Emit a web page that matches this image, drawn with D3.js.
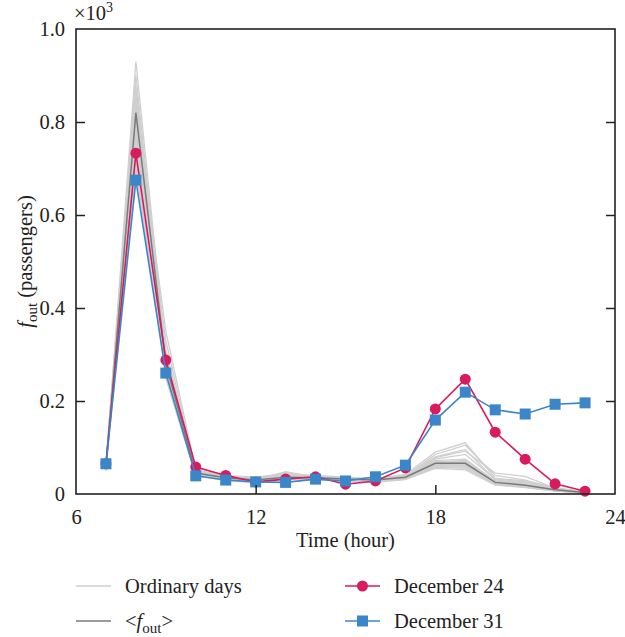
<!doctype html>
<html lang="en">
<head>
<meta charset="utf-8">
<title>f_out per hour</title>
<script src="https://d3js.org/d3.v7.min.js"></script>
<style>
  body { margin: 0; background: #fff; }
  svg text { font-family: "Liberation Serif", "DejaVu Serif", serif; fill: #222; }
</style>
</head>
<body>
<div id="chart"></div>
<script>
  // hours of the day (x values)
  const hours = [7, 8, 9, 10, 11, 12, 13, 14, 15, 16, 17, 18, 19, 20, 21, 22, 23];

  // values in thousands of passengers
  const dec24 = [0.065, 0.733, 0.288, 0.058, 0.040, 0.026, 0.032, 0.037, 0.021, 0.028, 0.056, 0.183, 0.247, 0.133, 0.075, 0.022, 0.006];
  const dec31 = [0.065, 0.675, 0.260, 0.039, 0.030, 0.026, 0.025, 0.032, 0.028, 0.037, 0.062, 0.159, 0.219, 0.181, 0.172, 0.193, 0.196];
  const meanDay = [0.060, 0.820, 0.280, 0.045, 0.035, 0.030, 0.036, 0.035, 0.032, 0.030, 0.036, 0.066, 0.066, 0.025, 0.019, 0.009, 0.003];

  const ordinaryDays = [
    [0.058, 0.930, 0.300, 0.048, 0.036, 0.032, 0.040, 0.036, 0.033, 0.030, 0.038, 0.072, 0.075, 0.028, 0.022, 0.010, 0.003],
    [0.062, 0.880, 0.290, 0.046, 0.034, 0.030, 0.038, 0.034, 0.031, 0.028, 0.035, 0.068, 0.070, 0.026, 0.020, 0.008, 0.002],
    [0.055, 0.860, 0.310, 0.050, 0.038, 0.034, 0.042, 0.038, 0.035, 0.032, 0.040, 0.080, 0.096, 0.030, 0.024, 0.012, 0.004],
    [0.065, 0.850, 0.270, 0.044, 0.032, 0.028, 0.035, 0.033, 0.030, 0.027, 0.034, 0.060, 0.060, 0.022, 0.017, 0.008, 0.003],
    [0.060, 0.840, 0.280, 0.045, 0.035, 0.031, 0.037, 0.035, 0.032, 0.029, 0.036, 0.064, 0.064, 0.024, 0.019, 0.009, 0.003],
    [0.052, 0.830, 0.350, 0.052, 0.040, 0.036, 0.044, 0.040, 0.036, 0.033, 0.042, 0.090, 0.110, 0.034, 0.028, 0.014, 0.004],
    [0.068, 0.820, 0.260, 0.042, 0.030, 0.027, 0.033, 0.031, 0.029, 0.026, 0.032, 0.058, 0.055, 0.020, 0.015, 0.007, 0.002],
    [0.057, 0.810, 0.290, 0.047, 0.036, 0.033, 0.046, 0.037, 0.034, 0.031, 0.037, 0.070, 0.068, 0.027, 0.021, 0.010, 0.003],
    [0.063, 0.800, 0.270, 0.043, 0.033, 0.029, 0.034, 0.033, 0.030, 0.028, 0.035, 0.062, 0.062, 0.023, 0.018, 0.008, 0.002],
    [0.050, 0.790, 0.330, 0.049, 0.037, 0.030, 0.039, 0.036, 0.033, 0.030, 0.039, 0.085, 0.105, 0.040, 0.030, 0.012, 0.004],
    [0.070, 0.780, 0.250, 0.040, 0.029, 0.024, 0.032, 0.030, 0.028, 0.025, 0.031, 0.055, 0.052, 0.019, 0.014, 0.006, 0.002],
    [0.059, 0.770, 0.280, 0.046, 0.034, 0.031, 0.036, 0.034, 0.031, 0.029, 0.036, 0.066, 0.068, 0.025, 0.020, 0.009, 0.003],
    [0.061, 0.760, 0.270, 0.044, 0.034, 0.029, 0.035, 0.033, 0.031, 0.028, 0.034, 0.063, 0.063, 0.024, 0.019, 0.008, 0.003],
    [0.054, 0.740, 0.300, 0.048, 0.036, 0.032, 0.038, 0.035, 0.032, 0.030, 0.037, 0.075, 0.085, 0.032, 0.026, 0.011, 0.003],
    [0.066, 0.720, 0.250, 0.041, 0.031, 0.026, 0.033, 0.031, 0.029, 0.026, 0.033, 0.057, 0.058, 0.021, 0.016, 0.007, 0.002],
    [0.056, 0.700, 0.260, 0.043, 0.032, 0.028, 0.034, 0.032, 0.030, 0.027, 0.034, 0.060, 0.061, 0.023, 0.018, 0.008, 0.002],
    [0.064, 0.870, 0.300, 0.047, 0.035, 0.030, 0.048, 0.036, 0.032, 0.030, 0.036, 0.078, 0.092, 0.045, 0.038, 0.012, 0.003],
    [0.058, 0.820, 0.280, 0.045, 0.034, 0.029, 0.036, 0.034, 0.032, 0.029, 0.036, 0.066, 0.060, 0.024, 0.020, 0.010, 0.004],
    [0.060, 0.900, 0.290, 0.046, 0.035, 0.031, 0.037, 0.035, 0.032, 0.029, 0.035, 0.068, 0.072, 0.026, 0.021, 0.009, 0.003],
    [0.062, 0.790, 0.280, 0.045, 0.034, 0.030, 0.036, 0.034, 0.031, 0.029, 0.036, 0.065, 0.066, 0.025, 0.019, 0.008, 0.003]
  ];

  const xTicks = [6, 12, 18, 24];
  const yTicks = [0, 0.2, 0.4, 0.6, 0.8, 1.0];
  const yTickLabels = ['0', '0.2', '0.4', '0.6', '0.8', '1.0'];

  const width = 625;
  const height = 637;
  const margin = { top: 29, right: 10, bottom: 143, left: 76 };
  const fontSize = 20.5;

  const svg = d3.select('#chart').append('svg')
    .attr('width', width)
    .attr('height', height);

  const x = d3.scaleLinear()
    .domain([6, 24])
    .range([margin.left, width - margin.right]);

  const y = d3.scaleLinear()
    .domain([0, 1])
    .range([height - margin.bottom, margin.top]);

  const red = '#d81b5e';
  const blue = '#3a86c8';
  const grey = '#cfcfcf';
  const meanGrey = '#7a7a7a';

  const line = d3.line()
    .x((d, i) => x(hours[i]))
    .y(d => y(d));

  const plot = svg.append('g');

  // ordinary days
  plot.selectAll('path.ordinary')
    .data(ordinaryDays)
    .enter()
    .append('path')
    .attr('class', 'ordinary')
    .attr('d', line)
    .attr('fill', 'none')
    .attr('stroke', grey)
    .attr('stroke-width', 1.3);

  // mean
  plot.append('path')
    .attr('d', line(meanDay))
    .attr('fill', 'none')
    .attr('stroke', meanGrey)
    .attr('stroke-width', 1.5);

  // December 24
  plot.append('path')
    .attr('d', line(dec24))
    .attr('fill', 'none')
    .attr('stroke', red)
    .attr('stroke-width', 1.6);

  plot.selectAll('circle.dec24')
    .data(dec24)
    .enter()
    .append('circle')
    .attr('class', 'dec24')
    .attr('cx', (d, i) => x(hours[i]))
    .attr('cy', d => y(d))
    .attr('r', 5.5)
    .attr('fill', red);

  // December 31
  plot.append('path')
    .attr('d', line(dec31))
    .attr('fill', 'none')
    .attr('stroke', blue)
    .attr('stroke-width', 1.6);

  const sq = 11;
  plot.selectAll('rect.dec31')
    .data(dec31)
    .enter()
    .append('rect')
    .attr('class', 'dec31')
    .attr('x', (d, i) => x(hours[i]) - sq / 2)
    .attr('y', d => y(d) - sq / 2)
    .attr('width', sq)
    .attr('height', sq)
    .attr('fill', blue);

  // axes (inward ticks)
  const axisColour = '#222';
  const xAxis = d3.axisBottom(x)
    .tickValues(xTicks)
    .tickSize(-9)
    .tickPadding(15)
    .tickFormat(d3.format('d'));

  const gx = svg.append('g')
    .attr('transform', `translate(0, ${y(0)})`)
    .call(xAxis);
  gx.select('.domain').remove();
  gx.selectAll('.tick line')
    .attr('stroke', axisColour)
    .attr('stroke-width', 1.5)
    .attr('opacity', d => (d === 6 || d === 24) ? 0 : 1);
  gx.selectAll('.tick text')
    .attr('font-size', fontSize)
    .attr('fill', axisColour)
    .style('font-family', '"Liberation Serif", serif');

  const yAxis = d3.axisLeft(y)
    .tickValues(yTicks)
    .tickSize(-9)
    .tickPadding(11)
    .tickFormat((d, i) => yTickLabels[i]);

  const gy = svg.append('g')
    .attr('transform', `translate(${x(6)}, 0)`)
    .call(yAxis);
  gy.select('.domain').remove();
  gy.selectAll('.tick line')
    .attr('stroke', axisColour)
    .attr('stroke-width', 1.5)
    .attr('opacity', d => (d === 0 || d === 1) ? 0 : 1);
  gy.selectAll('.tick text')
    .attr('font-size', fontSize)
    .attr('fill', axisColour)
    .style('font-family', '"Liberation Serif", serif');

  const yAxisRight = d3.axisRight(y)
    .tickValues(yTicks)
    .tickSize(-9)
    .tickFormat('');

  const gyr = svg.append('g')
    .attr('transform', `translate(${x(24)}, 0)`)
    .call(yAxisRight);
  gyr.select('.domain').remove();
  gyr.selectAll('.tick line')
    .attr('stroke', axisColour)
    .attr('stroke-width', 1.5)
    .attr('opacity', d => (d === 0 || d === 1) ? 0 : 1);

  // frame
  svg.append('rect')
    .attr('x', x(6))
    .attr('y', y(1))
    .attr('width', x(24) - x(6))
    .attr('height', y(0) - y(1))
    .attr('fill', 'none')
    .attr('stroke', axisColour)
    .attr('stroke-width', 1.6);

  // x10^3
  const mult = svg.append('text')
    .attr('x', x(6) - 2)
    .attr('y', 20)
    .attr('font-size', fontSize);
  mult.append('tspan').text('\u00d710');
  mult.append('tspan').attr('dy', -8).attr('font-size', 14).text('3');

  // axis titles
  svg.append('text')
    .attr('x', (x(6) + x(24)) / 2)
    .attr('y', 547)
    .attr('text-anchor', 'middle')
    .attr('font-size', fontSize)
    .text('Time (hour)');

  const ylab = svg.append('text')
    .attr('transform', `translate(32, ${(y(0) + y(1)) / 2}) rotate(-90)`)
    .attr('text-anchor', 'middle')
    .attr('font-size', fontSize);
  ylab.append('tspan').attr('font-style', 'italic').text('f');
  ylab.append('tspan').attr('dy', 5).attr('font-size', 15).text('out');
  ylab.append('tspan').attr('dy', -5).text(' (passengers)');

  // legend
  const legend = svg.append('g');
  const rows = [
    { x: 76, y: 586, stroke: grey, marker: null, label: 'Ordinary days' },
    { x: 76, y: 621, stroke: meanGrey, marker: null, label: 'mean' },
    { x: 345, y: 586, stroke: red, marker: 'circle', label: 'December 24' },
    { x: 345, y: 621, stroke: blue, marker: 'square', label: 'December 31' }
  ];
  rows.forEach(r => {
    const g = legend.append('g').attr('transform', `translate(${r.x}, ${r.y})`);
    g.append('line')
      .attr('x1', 0).attr('x2', 35)
      .attr('y1', 0).attr('y2', 0)
      .attr('stroke', r.stroke)
      .attr('stroke-width', 1.5);
    if (r.marker === 'circle') {
      g.append('circle').attr('cx', 17.5).attr('cy', 0).attr('r', 5.5).attr('fill', r.stroke);
    } else if (r.marker === 'square') {
      g.append('rect').attr('x', 12).attr('y', -5.5).attr('width', 11).attr('height', 11).attr('fill', r.stroke);
    }
    const t = g.append('text')
      .attr('x', 49)
      .attr('y', 6.5)
      .attr('font-size', fontSize);
    if (r.label === 'mean') {
      t.append('tspan').text('<');
      t.append('tspan').attr('font-style', 'italic').text('f');
      t.append('tspan').attr('dy', 5).attr('font-size', 15).text('out');
      t.append('tspan').attr('dy', -5).text('>');
    } else {
      t.text(r.label);
    }
  });
</script>
</body>
</html>
